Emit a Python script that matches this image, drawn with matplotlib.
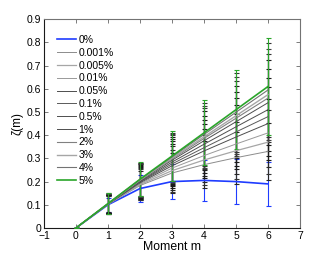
import matplotlib
matplotlib.use("Agg")
import matplotlib.pyplot as plt

plt.rcParams['font.family'] = ['Liberation Sans', 'DejaVu Sans']

moments = [0, 1, 2, 3, 4, 5, 6]
labels = ['0%', '0.001%', '0.005%', '0.01%', '0.05%', '0.1%', '0.5%', '1%', '2%', '3%', '4%', '5%']

zeta_0 = [0, .100, .170, .200, .205, .200, .190]
zeta_1 = [0, .102, .183, .237, .273, .303, .330]
zeta_2 = [0, .102, .187, .247, .293, .333, .370]
zeta_3 = [0, .103, .191, .258, .312, .362, .410]
zeta_4 = [0, .103, .195, .268, .332, .392, .450]
zeta_5 = [0, .103, .198, .276, .346, .414, .480]
zeta_6 = [0, .104, .200, .284, .361, .436, .510]
zeta_7 = [0, .104, .203, .292, .376, .458, .540]
zeta_8 = [0, .104, .205, .297, .386, .473, .560]
zeta_9 = [0, .105, .207, .301, .393, .484, .575]
zeta_10 = [0, .105, .209, .306, .403, .499, .595]
zeta_11 = [0, .105, .210, .310, .410, .510, .610]

err_0 = [0, .030, .060, .076, .088, .097, .096]
err_1 = [0, .035, .064, .087, .101, .112, .122]
err_2 = [0, .036, .066, .091, .108, .123, .137]
err_3 = [0, .037, .067, .094, .113, .131, .148]
err_4 = [0, .038, .068, .096, .117, .138, .158]
err_5 = [0, .039, .069, .097, .121, .145, .168]
err_6 = [0, .040, .070, .099, .124, .150, .176]
err_7 = [0, .041, .071, .101, .128, .156, .184]
err_8 = [0, .042, .072, .102, .131, .161, .190]
err_9 = [0, .043, .072, .103, .134, .165, .196]
err_10 = [0, .044, .073, .105, .137, .170, .203]
err_11 = [0, .045, .074, .107, .140, .170, .210]

means = [zeta_0, zeta_1, zeta_2, zeta_3, zeta_4, zeta_5, zeta_6, zeta_7, zeta_8, zeta_9, zeta_10, zeta_11]
errs = [err_0, err_1, err_2, err_3, err_4, err_5, err_6, err_7, err_8, err_9, err_10, err_11]

colors = ['#1f3cff', '0.55', '0.65', '0.6', '0.3', '0.35', '0.3', '0.3', '0.5', '0.65', '0.45', '#2aa52a']
bar_colors = ['#1f3cff', '0.15', '0.2', '0.15', '0.1', '0.1', '0.1', '0.1', '0.2', '0.25', '0.2', '#2aa52a']
widths = [1.2, 0.7, 0.9, 0.7, 0.7, 0.7, 0.7, 0.7, 0.8, 1.0, 0.8, 1.2]

fig = plt.figure(figsize=(3.32, 2.57), dpi=100)
ax = fig.add_axes([0.1325, 0.113, 0.771, 0.812])

handles = []
for i in range(len(labels)):
    ax.errorbar(moments, means[i], yerr=errs[i], fmt='none', ecolor=bar_colors[i],
                elinewidth=0.8, capsize=1.8, capthick=0.8, zorder=2 + i * 0.1)
    h, = ax.plot(moments, means[i], color=colors[i], lw=widths[i], zorder=3 + i * 0.1, label=labels[i])
    handles.append(h)

ax.set_xlim(-1, 7)
ax.set_ylim(0, 0.9)
ax.set_xticks(range(-1, 8))
ax.set_xticklabels(['\u22121'] + [str(v) for v in range(0, 8)])
ax.set_yticks([0, 0.1, 0.2, 0.3, 0.4, 0.5, 0.6, 0.7, 0.8, 0.9])
ax.set_yticklabels(['0', '0.1', '0.2', '0.3', '0.4', '0.5', '0.6', '0.7', '0.8', '0.9'])
ax.tick_params(direction='in', top=True, right=True, labelsize=7.5, length=3, width=0.6,
               color='0.4', pad=2)
for s in ax.spines.values():
    s.set_color('0.45')
    s.set_linewidth(0.8)
ax.spines['bottom'].set_color('0.1')
ax.spines['left'].set_color('0.1')

ax.set_xlabel('Moment m', fontsize=8.8, labelpad=0)
ax.set_ylabel('\u03b6(m)', fontsize=8.5, labelpad=2)

leg = ax.legend(handles=handles, loc='upper left', frameon=False, fontsize=7.5,
                handlelength=1.8, handletextpad=0.25, labelspacing=0.27,
                borderaxespad=0.0, bbox_to_anchor=(0.035, 0.945))

fig.savefig('out.png', dpi=100)
